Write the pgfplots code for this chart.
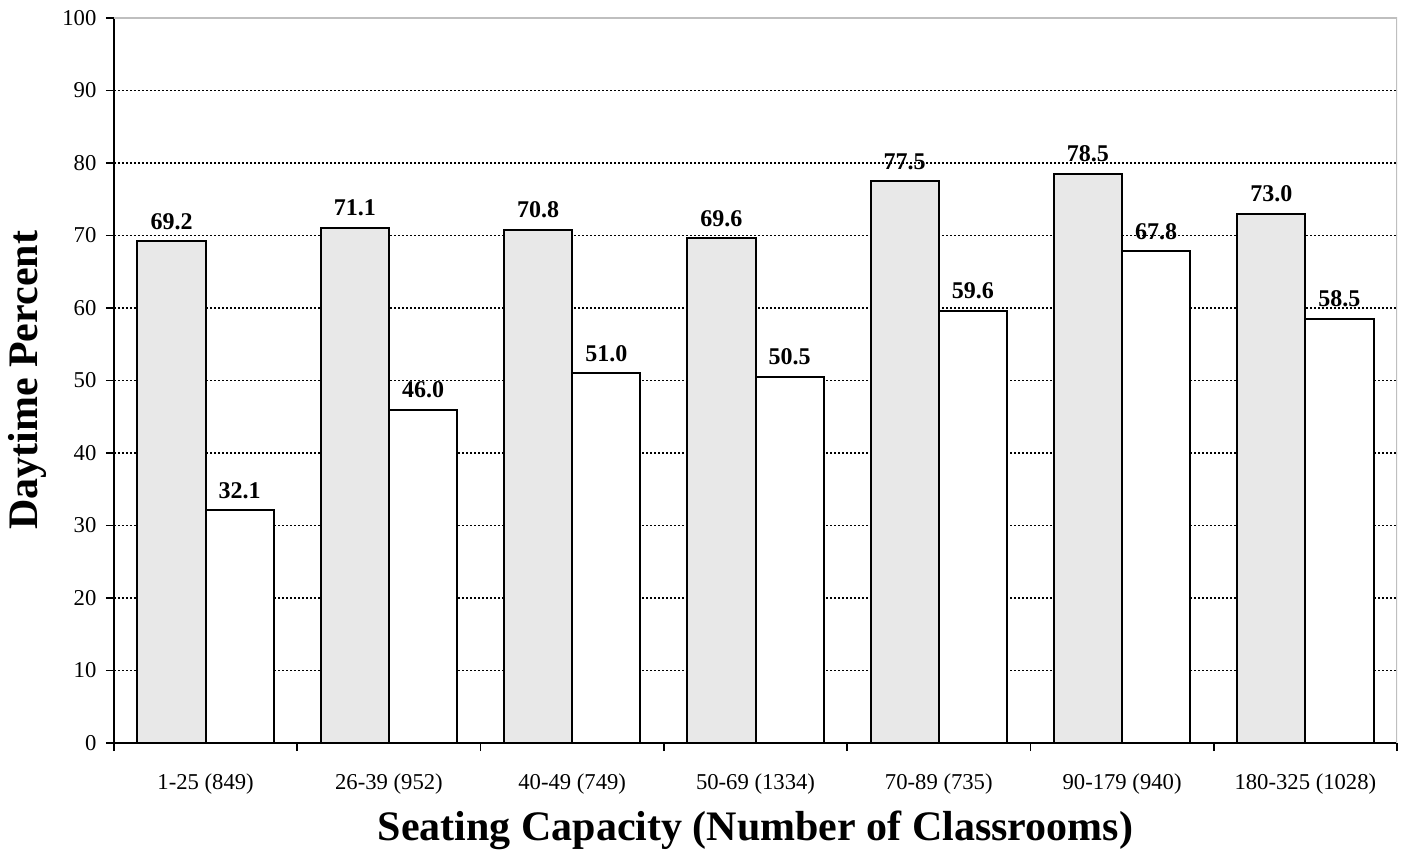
\documentclass[border=0pt]{standalone}
\usepackage{pgfplots}
\pgfplotsset{compat=1.18}
\usepackage{pgfplotstable}
\usepackage{fontspec}
\setmainfont{Liberation Serif}

\pgfplotstableread{
x gray white
0 69.2 32.1
1 71.1 46.0
2 70.8 51.0
3 69.6 50.5
4 77.5 59.6
5 78.5 67.8
6 73.0 58.5
}\datatab

\begin{document}
\begin{tikzpicture}
\useasboundingbox (-85.5pt,-83.25pt) rectangle (970.5pt,557.25pt);
\begin{axis}[
  scale only axis, width=962.25pt, height=543.75pt,
  xmin=-0.5, xmax=6.5, ymin=0, ymax=100,
  ybar=0pt, bar width=0.372,
  axis x line*=bottom, axis y line*=left,
  axis line style={line width=1.5pt, -},
  xtick={-0.5,0.5,...,6.5}, x tick label as interval,
  xticklabels={1-25 (849),26-39 (952),40-49 (749),50-69 (1334),70-89 (735),90-179 (940),180-325 (1028)},
  ytick={0,10,...,100},
  tick align=outside, major tick length=6pt,
  tick style={black, line width=1.2pt},
  ymajorgrids, grid style={black, line width=1pt, dash pattern=on 1.5pt off 1.5pt},
  /pgf/number format/assume math mode=true,
  yticklabel style={font=\fontsize{17}{20}\selectfont, anchor=east, inner sep=0pt, xshift=-7pt},
  xticklabel style={font=\fontsize{17}{20}\selectfont, anchor=base, inner sep=0pt, yshift=-29pt},
  ylabel={Daytime Percent},
  xlabel={Seating Capacity (Number of Classrooms)},
  ylabel style={font=\fontsize{31.5}{36}\selectfont\bfseries, at={(axis description cs:-0.0675,0.5)}, anchor=center},
  xlabel style={font=\fontsize{31.5}{36}\selectfont\bfseries, at={(axis description cs:0.5,-0.12)}, anchor=center},
  nodes near coords={\pgfmathprintnumber[fixed,fixed zerofill,precision=1]{\pgfplotspointmeta}},
  nodes near coords style={font=\fontsize{18}{20}\selectfont\bfseries, anchor=south, inner sep=0pt, yshift=8pt, black},
]
\addplot[draw=black, line width=1.5pt, fill=black!9] table[x=x, y=gray] {\datatab};
\addplot[draw=black, line width=1.5pt, fill=white] table[x=x, y=white] {\datatab};
\draw[black!25, line width=1.5pt] (rel axis cs:0,1) -- (rel axis cs:1,1) -- (rel axis cs:1,0);
\end{axis}
\end{tikzpicture}
\end{document}
